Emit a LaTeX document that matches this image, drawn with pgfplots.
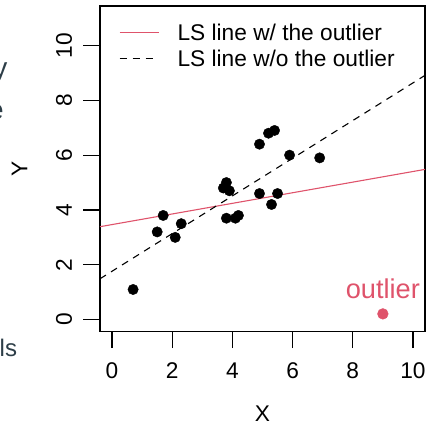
\documentclass[border=0pt]{standalone}
\usepackage{fontspec}
\setmainfont{Liberation Sans}
\usepackage{pgfplots}
\pgfplotsset{compat=1.18}
\usetikzlibrary{calc}
\definecolor{rred}{HTML}{DF536B}
\definecolor{slate}{RGB}{45,62,72}
\newcommand{\bigf}{\fontsize{22.7}{27}\selectfont}
\begin{document}
\begin{tikzpicture}
\begin{axis}[
  scale only axis, width=325pt, height=325.7pt,
  xmin=-0.4, xmax=10.4, ymin=-0.44, ymax=11.44,
  xtick={0,2,...,10}, ytick={0,2,...,10},
  xtick pos=bottom, ytick pos=left,
  tick align=outside, major tick length=16.5pt,
  tick style={black, line width=1.1pt},
  axis line style={line width=1.1pt},
  /pgf/number format/assume math mode=true,
  tick label style={font=\bigf, inner sep=0pt},
  xticklabel style={anchor=north, yshift=-14.5pt},
  yticklabel style={rotate=90, anchor=base, yshift=11.5pt},
  label style={font=\bigf, inner sep=0pt},
  xlabel={X}, ylabel={Y},
  xlabel style={at={(axis description cs:0.5,-0.2742)}, anchor=base},
  ylabel style={at={(axis description cs:-0.2237,0.5)}, anchor=base},
  legend style={draw=none, fill=none, font=\bigf,
    at={(axis description cs:0.0585,0.9432)}, anchor=north west,
    inner sep=0pt, outer sep=0pt, row sep=9.2pt,
    nodes={inner sep=0pt, text height=16.5pt, text depth=0pt},
    /tikz/every odd column/.append style={column sep=18.5pt}},
  legend cell align=left,
  legend image code/.code={\draw[#1] (0pt,0pt) -- (39pt,0pt);},
  clip=false,
]
\addplot[rred, line width=1.1pt, forget plot] coordinates {(-0.4,3.39) (10.4,5.48)};
\addplot[black, line width=1.1pt, dash pattern=on 7pt off 6pt, forget plot] coordinates {(-0.4,1.49) (10.4,8.91)};
\addlegendimage{rred, line width=1.1pt}
\addlegendentry{LS line w/ the outlier}
\addlegendimage{black, line width=1.1pt, dash pattern=on 7pt off 6pt}
\addlegendentry{LS line w/o the outlier}
\addplot[only marks, mark=*, mark size=5.2pt, black, forget plot] coordinates {
(0.7,1.1) (1.5,3.2) (1.7,3.8) (2.1,3.0) (2.3,3.5) (3.7,4.8) (3.8,5.0) (3.9,4.7)
(3.8,3.7) (4.1,3.7) (4.2,3.8) (4.9,4.6) (5.3,4.2) (5.5,4.6) (4.9,6.4) (5.2,6.8)
(5.4,6.9) (5.9,6.0) (6.9,5.9)};
\addplot[only marks, mark=*, mark size=5.4pt, rred, forget plot] coordinates {(9.0,0.21)};
\node[rred, font=\fontsize{27.2}{32}\selectfont, anchor=base, inner sep=0pt] at (axis cs:9,0.78) {outlier};
\end{axis}
\coordinate (O) at ($(current axis.south west)+(-100pt,331.7pt)$);
\node[slate, font=\fontsize{28}{32}\selectfont, anchor=base east, inner sep=0pt] at ($(O)+(7.5pt,-78pt)$) {y};
\node[slate, font=\fontsize{28}{32}\selectfont, anchor=base east, inner sep=0pt] at ($(O)+(4pt,-120pt)$) {e};
\node[slate, font=\fontsize{24}{28}\selectfont, anchor=base west, inner sep=0pt] at ($(O)+(-0.5pt,-357pt)$) {ls};
\pgfresetboundingbox
\path[use as bounding box] (O) rectangle ++(428pt,-425pt);
\end{tikzpicture}
\end{document}
